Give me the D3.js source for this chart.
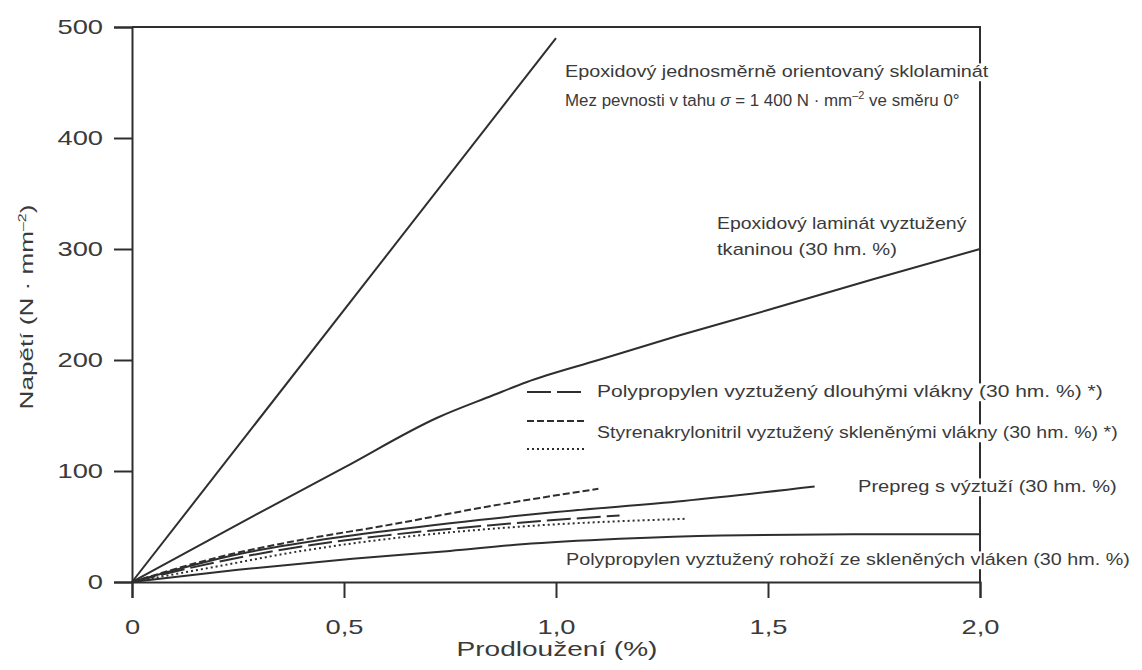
<!DOCTYPE html>
<html>
<head>
<meta charset="utf-8">
<script src="https://cdn.jsdelivr.net/npm/d3@7"></script>
<style>
  body { margin: 0; background: #fff; }
  svg text { font-family: "Liberation Sans", Arial, sans-serif; fill: #3a3a3a; }
</style>
</head>
<body>
<svg id="chart"></svg>
<script>
// strain (%) / stress (N/mm2) pairs
const epoxyUD = [[0, 0], [1.0, 490]];
const epoxyFabric = [[0, 0], [0.25, 52], [0.5, 103], [0.72, 148], [0.85, 168], [0.93, 180],
    [1.1, 200], [1.29, 222], [1.5, 245], [1.75, 273], [2.0, 300]];
const prepreg = [[0, 0], [0.25, 25], [0.5, 41], [0.75, 53], [1.0, 63], [1.3, 73], [1.61, 86]];
const ppMat = [[0, 0], [0.25, 11], [0.52, 21], [0.75, 28], [0.92, 34], [1.15, 39], [1.39, 42], [1.7, 43], [2.0, 43]];
const ppLongFibre = [[0, 0], [0.2, 18], [0.4, 32], [0.6, 42], [0.84, 51], [1.15, 60]];
const sanDashed = [[0, 0], [0.2, 22], [0.4, 38], [0.6, 51], [0.84, 68], [1.1, 84]];
const sanDotted = [[0, 0], [0.2, 14], [0.4, 28], [0.63, 40], [0.92, 50], [1.31, 57]];

const xTicks = [0, 0.5, 1.0, 1.5, 2.0];
const xTickLabels = ['0', '0,5', '1,0', '1,5', '2,0'];
const yTicks = [0, 100, 200, 300, 400, 500];

const width = 1142;
const height = 670;
const ink = '#2e2e2e';

const svg = d3.select('svg#chart')
    .attr('width', width)
    .attr('height', height);

const x = d3.scaleLinear().domain([0, 2]).range([132, 980]);
const y = d3.scaleLinear().domain([0, 500]).range([582, 27]);

// stretch the typeface horizontally like the scanned figure
function stretchLabels(sel, k) {
    sel.each(function () {
        const w = this.getComputedTextLength();
        d3.select(this).attr('textLength', w * k).attr('lengthAdjust', 'spacingAndGlyphs');
    });
}

const xAxis = svg.append('g')
    .attr('transform', `translate(0,${y(0)})`)
    .call(d3.axisBottom(x).tickValues(xTicks).tickSize(16).tickPadding(21)
        .tickFormat((d, i) => xTickLabels[i]));
const yAxis = svg.append('g')
    .attr('transform', `translate(${x(0)},0)`)
    .call(d3.axisLeft(y).tickValues(yTicks).tickSize(18).tickPadding(11));

[xAxis, yAxis].forEach(a => {
    a.select('.domain').attr('stroke', ink).attr('stroke-width', 2);
    a.selectAll('.tick line').attr('stroke', ink).attr('stroke-width', 2);
    a.selectAll('.tick text').attr('font-size', 21).attr('fill', '#3a3a3a')
        .call(stretchLabels, 1.3);
});

// frame top and right
svg.append('path')
    .attr('d', `M${x(0)},${y(500)}H${x(2)}V${y(0)}`)
    .attr('fill', 'none')
    .attr('stroke', ink)
    .attr('stroke-width', 2);

const line = d3.line()
    .x(d => x(d[0]))
    .y(d => y(d[1]))
    .curve(d3.curveMonotoneX);

const series = [
    {data: epoxyUD, dash: null},
    {data: epoxyFabric, dash: null},
    {data: ppMat, dash: null},
    {data: prepreg, dash: null},
    {data: sanDotted, dash: '2,3'},
    {data: ppLongFibre, dash: '24,6'},
    {data: sanDashed, dash: '7,3'}
];

svg.append('g').selectAll('path')
    .data(series)
    .join('path')
    .attr('d', d => line(d.data))
    .attr('fill', 'none')
    .attr('stroke', ink)
    .attr('stroke-width', 2)
    .attr('stroke-dasharray', d => d.dash);

// legend swatches
const legendRows = [
    {y: 392, dash: '24,6', x1: 527, x2: 582},
    {y: 421, dash: '7,3', x1: 527, x2: 586},
    {y: 449, dash: '2,3', x1: 527, x2: 584}
];
svg.append('g').selectAll('line')
    .data(legendRows)
    .join('line')
    .attr('x1', d => d.x1).attr('x2', d => d.x2)
    .attr('y1', d => d.y).attr('y2', d => d.y)
    .attr('stroke', ink)
    .attr('stroke-width', 2)
    .attr('stroke-dasharray', d => d.dash);

// text placed at (tx, ty) and squeezed / stretched to a given width, white behind it
function label(tx, ty, w, build, opts = {}) {
    const size = opts.size || 17;
    const g = svg.append('g');
    const t = g.append('text')
        .attr('font-size', size)
        .attr('text-anchor', opts.anchor || 'start');
    build(t);
    const bb = t.node().getBBox();
    if (opts.bg !== false) {
        g.insert('rect', 'text')
            .attr('x', bb.x - 3).attr('y', -0.8 * size)
            .attr('width', bb.width + 6).attr('height', 1.05 * size)
            .attr('fill', '#fff');
    }
    g.attr('transform', `translate(${tx},${ty})${opts.rotate ? ` rotate(${opts.rotate})` : ''} scale(${w / bb.width},1)`);
    return g;
}

label(565, 77, 424, t => t.text('Epoxidový jednosměrně orientovaný sklolaminát'));
label(565, 106, 395, t => {
    t.append('tspan').text('Mez pevnosti v tahu ');
    t.append('tspan').attr('font-style', 'italic').text('σ');
    t.append('tspan').text(' = 1 400 N · mm');
    t.append('tspan').attr('font-size', 11).attr('dy', -7).text('–2');
    t.append('tspan').attr('dy', 7).text(' ve směru 0°');
});
label(717, 229, 250, t => t.text('Epoxidový laminát vyztužený'));
label(717, 255, 180, t => t.text('tkaninou (30 hm. %)'));
label(597, 397, 506, t => t.text('Polypropylen vyztužený dlouhými vlákny (30 hm. %) *)'));
label(597, 438, 521, t => t.text('Styrenakrylonitril vyztužený skleněnými vlákny (30 hm. %) *)'));
label(858, 492, 259, t => t.text('Prepreg s výztuží (30 hm. %)'));
label(566, 565, 564, t => t.text('Polypropylen vyztužený rohoží ze skleněných vláken (30 hm. %)'));

// axis titles
label(557, 656, 201, t => t.text('Prodloužení (%)'), {anchor: 'middle', size: 20, bg: false});
label(33, 307, 205, t => {
    t.append('tspan').text('Napětí (N · mm');
    t.append('tspan').attr('font-size', 11).attr('dy', -7).text('–2');
    t.append('tspan').attr('dy', 7).text(')');
}, {anchor: 'middle', size: 18, bg: false, rotate: -90});
</script>
</body>
</html>
